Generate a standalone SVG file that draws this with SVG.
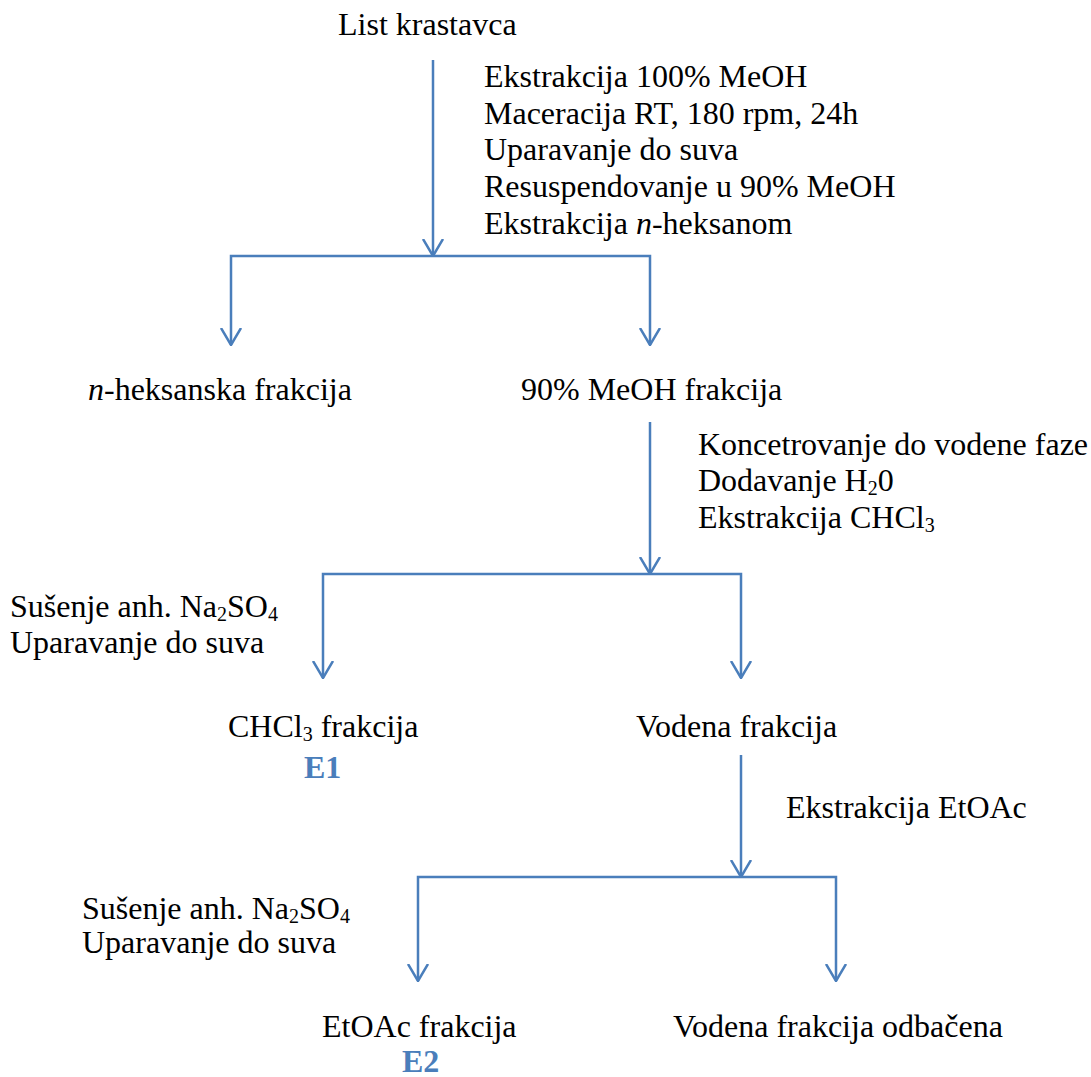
<svg xmlns="http://www.w3.org/2000/svg" width="1091" height="1077" viewBox="0 0 1091 1077">
<style>
text{font-family:"Liberation Serif","Times New Roman",serif;font-size:32px;fill:#000}
.e{font-weight:bold;fill:#4a7ebb}
.s{font-size:20px}
.c{fill:none;stroke:#4a7ebb;stroke-width:2.5}
</style>
<defs>
<marker id="a" viewBox="0 0 18 22" refX="17" refY="11" markerWidth="18" markerHeight="22" markerUnits="userSpaceOnUse" orient="auto-start-reverse">
<path d="M0 1 L17 11 L0 21" fill="none" stroke="#4a7ebb" stroke-width="2.5"/>
</marker>
</defs>
<rect width="1091" height="1077" fill="#fff"/>
<g id="connectors">
<path class="c" d="M433 60 V256" marker-end="url(#a)"/>
<path class="c" d="M231 345 V256 H650 V345" marker-start="url(#a)" marker-end="url(#a)"/>
<path class="c" d="M650 422 V574" marker-end="url(#a)"/>
<path class="c" d="M323 678 V574 H741 V678" marker-start="url(#a)" marker-end="url(#a)"/>
<path class="c" d="M741 755 V877" marker-end="url(#a)"/>
<path class="c" d="M418 981 V877 H836 V981" marker-start="url(#a)" marker-end="url(#a)"/>
</g>
<g id="n1"><text x="338" y="35">List krastavca</text></g>
<g id="s1">
<text x="484" y="87">Ekstrakcija 100% MeOH</text>
<text x="484" y="124">Maceracija RT, 180 rpm, 24h</text>
<text x="484" y="160">Uparavanje do suva</text>
<text x="484" y="197">Resuspendovanje u 90% MeOH</text>
<text x="484" y="234">Ekstrakcija <tspan font-style="italic">n</tspan>-heksanom</text>
</g>
<g id="n2"><text x="88" y="400"><tspan font-style="italic">n</tspan>-heksanska frakcija</text></g>
<g id="n3"><text x="521" y="400">90% MeOH frakcija</text></g>
<g id="s2">
<text x="698" y="455">Koncetrovanje do vodene faze</text>
<text x="698" y="491">Dodavanje H<tspan class="s" dy="4">2</tspan><tspan dy="-4">0</tspan></text>
<text x="698" y="528">Ekstrakcija CHCl<tspan class="s" dy="4">3</tspan></text>
</g>
<g id="s3">
<text x="10" y="617">Sušenje anh. Na<tspan class="s" dy="4">2</tspan><tspan dy="-4">SO</tspan><tspan class="s" dy="4">4</tspan></text>
<text x="10" y="653">Uparavanje do suva</text>
</g>
<g id="n4">
<text x="228" y="737">CHCl<tspan class="s" dy="4">3</tspan><tspan dy="-4"> frakcija</tspan></text>
<text class="e" x="304" y="778">E1</text>
</g>
<g id="n5"><text x="636" y="737">Vodena frakcija</text></g>
<g id="s4"><text x="786" y="818">Ekstrakcija EtOAc</text></g>
<g id="s5">
<text x="82" y="919">Sušenje anh. Na<tspan class="s" dy="4">2</tspan><tspan dy="-4">SO</tspan><tspan class="s" dy="4">4</tspan></text>
<text x="82" y="953">Uparavanje do suva</text>
</g>
<g id="n6">
<text x="322" y="1037">EtOAc frakcija</text>
<text class="e" x="402" y="1072">E2</text>
</g>
<g id="n7"><text x="673" y="1037">Vodena frakcija odbačena</text></g>
</svg>
